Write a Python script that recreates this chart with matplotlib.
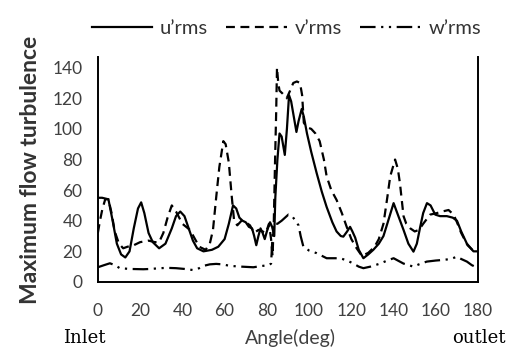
import matplotlib
matplotlib.use("Agg")
import matplotlib.pyplot as plt
import numpy as np

# u'rms (solid)
u_ang = [0, 2, 5, 7, 9, 11, 13, 15, 17, 19, 20.5, 22, 24, 26, 29, 32, 35, 37, 39, 41, 43, 45, 47, 50,
         54, 57, 60, 62, 64, 65.5, 67, 68.5, 70, 71.5, 73, 74, 75, 76, 77, 78, 79, 80, 81.5, 82.5, 83.5,
         84, 85, 86, 87, 88.5, 89.5, 90.5, 91.5, 92.5, 94, 95, 96.5, 97.5, 99, 101, 103.6, 106, 108.3,
         111, 113, 115, 116.2, 118, 119.4, 120.5, 121.8, 123.5, 125.7, 128, 130.4, 133, 135.2, 137, 139,
         140, 142, 144.7, 147, 149.4, 151, 152.6, 154, 155.8, 157.5, 159.7, 162, 165.2, 168, 170, 172,
         174.7, 177.8, 180]
u_val = [55, 55, 54, 40, 25, 18, 16, 20, 35, 48, 52, 45, 32, 26, 22, 25, 35, 43, 46, 43, 35, 27, 22, 20,
         21, 23, 28, 38, 50, 48, 42, 40, 39, 36, 35, 30, 24, 30, 35, 32, 28, 33, 39, 36, 30,
         55, 80, 97, 95, 83, 100, 122, 118, 110, 98, 105, 113, 108, 97, 85, 71, 59, 49,
         39, 33, 30, 29.6, 33, 36, 33, 29, 21, 15.5, 18, 21, 25, 30, 38, 47,
         51.5, 44, 34, 25, 19.8, 25, 36, 45, 51.5, 50, 44, 43, 43, 42, 40, 33,
         25, 20, 20]

# v'rms (dashed)
v_ang = [0, 1, 2.2, 3.5, 5, 6.5, 8, 10, 12, 14, 17, 20, 24, 27, 29, 31, 33, 35, 37, 40, 43.6, 46, 48,
         51, 53, 54.5, 56, 57.5, 59.4, 60.5, 62, 63.3, 64.5, 66, 68, 70, 72, 74, 76, 78, 79.5, 81, 82,
         82.7, 83.3, 83.9, 84.4, 84.8, 85.4, 86, 87.5, 89.4, 91, 92.5, 94.2, 95.7, 96.7, 97.5, 99, 101,
         103, 105, 107, 108.3, 110.5, 113, 115.5, 117.8, 120, 122.5, 125, 128, 131, 133, 135.2, 137,
         138.4, 140.7, 142, 143, 144.7, 146, 147.9, 150, 152, 154, 157.3, 160.5, 163, 166, 168.4, 170,
         172, 175, 178, 180]
v_val = [32, 40, 48, 54, 54, 45, 33, 25, 22, 23, 24, 26, 27, 26, 26, 32, 42, 50, 46, 38, 34, 28, 23,
         21, 25, 34, 55, 75, 92, 90, 78, 57, 40, 37, 40, 39, 37, 32, 34, 33, 32, 38, 28,
         17, 40, 80, 110, 140, 130, 125, 123, 120, 125, 130, 131, 130, 122, 104, 101, 100,
         97, 92, 80, 69, 60, 53.6, 45, 36, 28, 22, 17, 19, 23, 28, 38, 55,
         69, 80, 74, 64.5, 43, 38, 35, 33, 34, 38, 44, 45, 46, 47, 44, 39,
         32, 24, 20, 20]

# w'rms (dash-dot)
w_ang = [0, 3, 5.7, 8, 10.4, 15, 21.5, 25, 29.4, 33, 37, 41, 45, 48, 50, 53, 56, 59, 62.5, 68, 73.6,
         78, 81, 82, 83, 85, 87, 90.2, 92, 95, 96, 97.3, 100, 103.6, 108.3, 114.7, 118, 121, 123.5,
         125.7, 129, 133.6, 137, 140, 142, 144.7, 149.4, 152, 155.7, 160, 163.6, 167, 170, 172, 174.7,
         177, 180]
w_val = [9.6, 11, 12.2, 11, 9, 8.5, 8.3, 8.5, 9, 9.2, 9, 8.5, 7.8, 9, 10.5, 11.5, 11.8, 11.5, 10.5, 10,
         9.6, 10.5, 11, 12, 38, 38, 40, 44, 43, 37, 30, 23, 20.5, 18.8, 15.5, 15.5, 14, 12, 10,
         9, 10, 12, 14, 15.5, 14, 12, 10, 11.5, 13.3, 14, 14.4, 15, 16.5, 15, 13.3,
         11, 9]

x_ticks = [0, 20, 40, 60, 80, 100, 120, 140, 160, 180]
y_ticks = [0, 20, 40, 60, 80, 100, 120, 140]

plt.rcParams['font.family'] = ['Lato', 'DejaVu Sans']

fig = plt.figure(figsize=(5.07, 3.56), dpi=100)
ax = fig.add_axes([0.193, 0.208, 0.750, 0.632])

ax.plot(u_ang, u_val, color='black', lw=1.6, ls='-', label='u\u2019rms')
ax.plot(v_ang, v_val, color='black', lw=1.6, ls=(0, (4, 2.5)), label='v\u2019rms')
ax.plot(w_ang, w_val, color='black', lw=1.6, ls=(0, (7, 2.5, 1, 2.5, 1, 2.5)), label='w\u2019rms')

ax.set_xlim(0, 180)
ax.set_ylim(0, 147)
ax.set_xticks(x_ticks)
ax.set_yticks(y_ticks)
ax.tick_params(axis='both', length=0, labelsize=12.5, colors='#404040')
ax.tick_params(axis='x', pad=15)
ax.tick_params(axis='y', pad=11)
ax.spines['top'].set_visible(False)
for s in ['left', 'right', 'bottom']:
    ax.spines[s].set_linewidth(1.4)

ax.set_ylabel('Maximum flow turbulence', fontsize=16.5, fontweight='bold', color='#333333', labelpad=8)

fig.text(0.572, 0.05, 'Angle(deg)', ha='center', va='center', fontsize=14, color='#404040')
fig.text(0.167, 0.05, 'Inlet', ha='center', va='center', fontsize=13, family='DejaVu Serif')
fig.text(0.945, 0.05, 'outlet', ha='center', va='center', fontsize=13, family='DejaVu Serif')

fig.legend(loc='upper center', bbox_to_anchor=(0.565, 0.995), ncol=3, frameon=False, fontsize=14.5,
           handlelength=3.0, handletextpad=0.4, columnspacing=0.9, labelcolor='#333333')

fig.savefig('out.png', dpi=100)
